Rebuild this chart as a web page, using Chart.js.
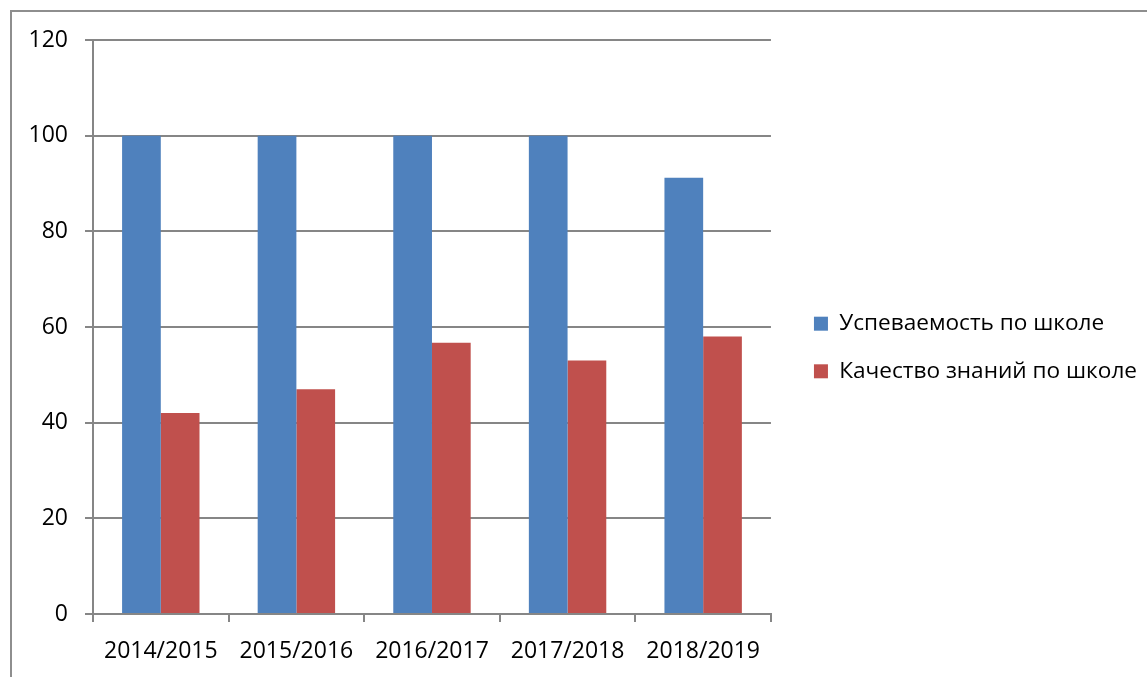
<!DOCTYPE html>
<html>
<head>
<meta charset="utf-8">
<script src="https://cdn.jsdelivr.net/npm/chart.js@4.4.1/dist/chart.umd.min.js"></script>
<style>
  html, body { margin: 0; padding: 0; background: #fff; overflow: hidden; }
  #wrap { position: absolute; left: 0; top: 0; width: 1147px; height: 677px; }
</style>
</head>
<body>
<div id="wrap"><canvas id="chart"></canvas></div>
<script>
// data
var years = ["2014/2015", "2015/2016", "2016/2017", "2017/2018", "2018/2019"];
var uspevaemost = [100, 100, 100, 100, 91.2];
var kachestvo = [42, 47, 56.7, 53, 58];
var yTicks = [0, 20, 40, 60, 80, 100, 120];

var lineGray = "#868686";
var fontFamily = "'Open Sans', 'Noto Sans', sans-serif";

// outer frame of the excel chart, cut off on the right and bottom
var framePlugin = {
    id: "frame",
    beforeDraw: function(chart) {
        var ctx = chart.ctx;
        ctx.save();
        ctx.strokeStyle = "#8e8e8e";
        ctx.lineWidth = 2;
        ctx.strokeRect(11, 11, 1200, 700);
        ctx.restore();
    },
    // center the legend a bit higher, like excel does
    afterLayout: function(chart) {
        if (chart.legend) {
            chart.legend.bottom -= 22;
            chart.legend.height -= 22;
        }
    }
};

var ctx = document.getElementById("chart").getContext("2d");
var chart = new Chart(ctx, {
    type: "bar",
    data: {
        labels: years,
        datasets: [{
            label: "Успеваемость по школе",
            data: uspevaemost,
            backgroundColor: "#4F81BD",
            borderWidth: 0
        }, {
            label: "Качество знаний по школе",
            data: kachestvo,
            backgroundColor: "#C0504D",
            borderWidth: 0
        }]
    },
    options: {
        responsive: true,
        maintainAspectRatio: false,
        animation: false,
        datasets: {
            bar: { categoryPercentage: 0.571, barPercentage: 1.0 }
        },
        layout: {
            padding: { left: 0, top: 40, right: 0, bottom: 0 }
        },
        plugins: {
            legend: {
                position: "right",
                align: "center",
                maxWidth: 420,
                labels: {
                    boxWidth: 14,
                    boxHeight: 14,
                    padding: 25,
                    color: "#000",
                    font: { family: fontFamily, size: 22.6 }
                }
            },
            tooltip: { enabled: false }
        },
        scales: {
            x: {
                grid: {
                    offset: true,
                    drawOnChartArea: false,
                    drawTicks: true,
                    tickLength: 8,
                    color: lineGray,
                    lineWidth: 2
                },
                border: { color: lineGray, width: 2 },
                ticks: {
                    color: "#000",
                    padding: 16,
                    maxRotation: 0,
                    font: { family: fontFamily, size: 23 }
                },
                afterFit: function(scale) { scale.height = 63; }
            },
            y: {
                min: 0,
                max: 120,
                afterBuildTicks: function(scale) {
                    scale.ticks = yTicks.map(function(v) { return { value: v }; });
                },
                grid: {
                    color: lineGray,
                    lineWidth: 2,
                    tickLength: 8
                },
                border: { color: lineGray, width: 2 },
                ticks: {
                    color: "#000",
                    padding: 17,
                    font: { family: fontFamily, size: 23 }
                },
                afterFit: function(scale) { scale.width = 93; }
            },
            // empty spacer between the plot and the legend
            gap: {
                type: "linear",
                position: "right",
                grid: { display: false },
                border: { display: false },
                ticks: { display: false },
                afterFit: function(scale) { scale.width = 18; }
            }
        }
    },
    plugins: [framePlugin]
});
</script>
</body>
</html>
